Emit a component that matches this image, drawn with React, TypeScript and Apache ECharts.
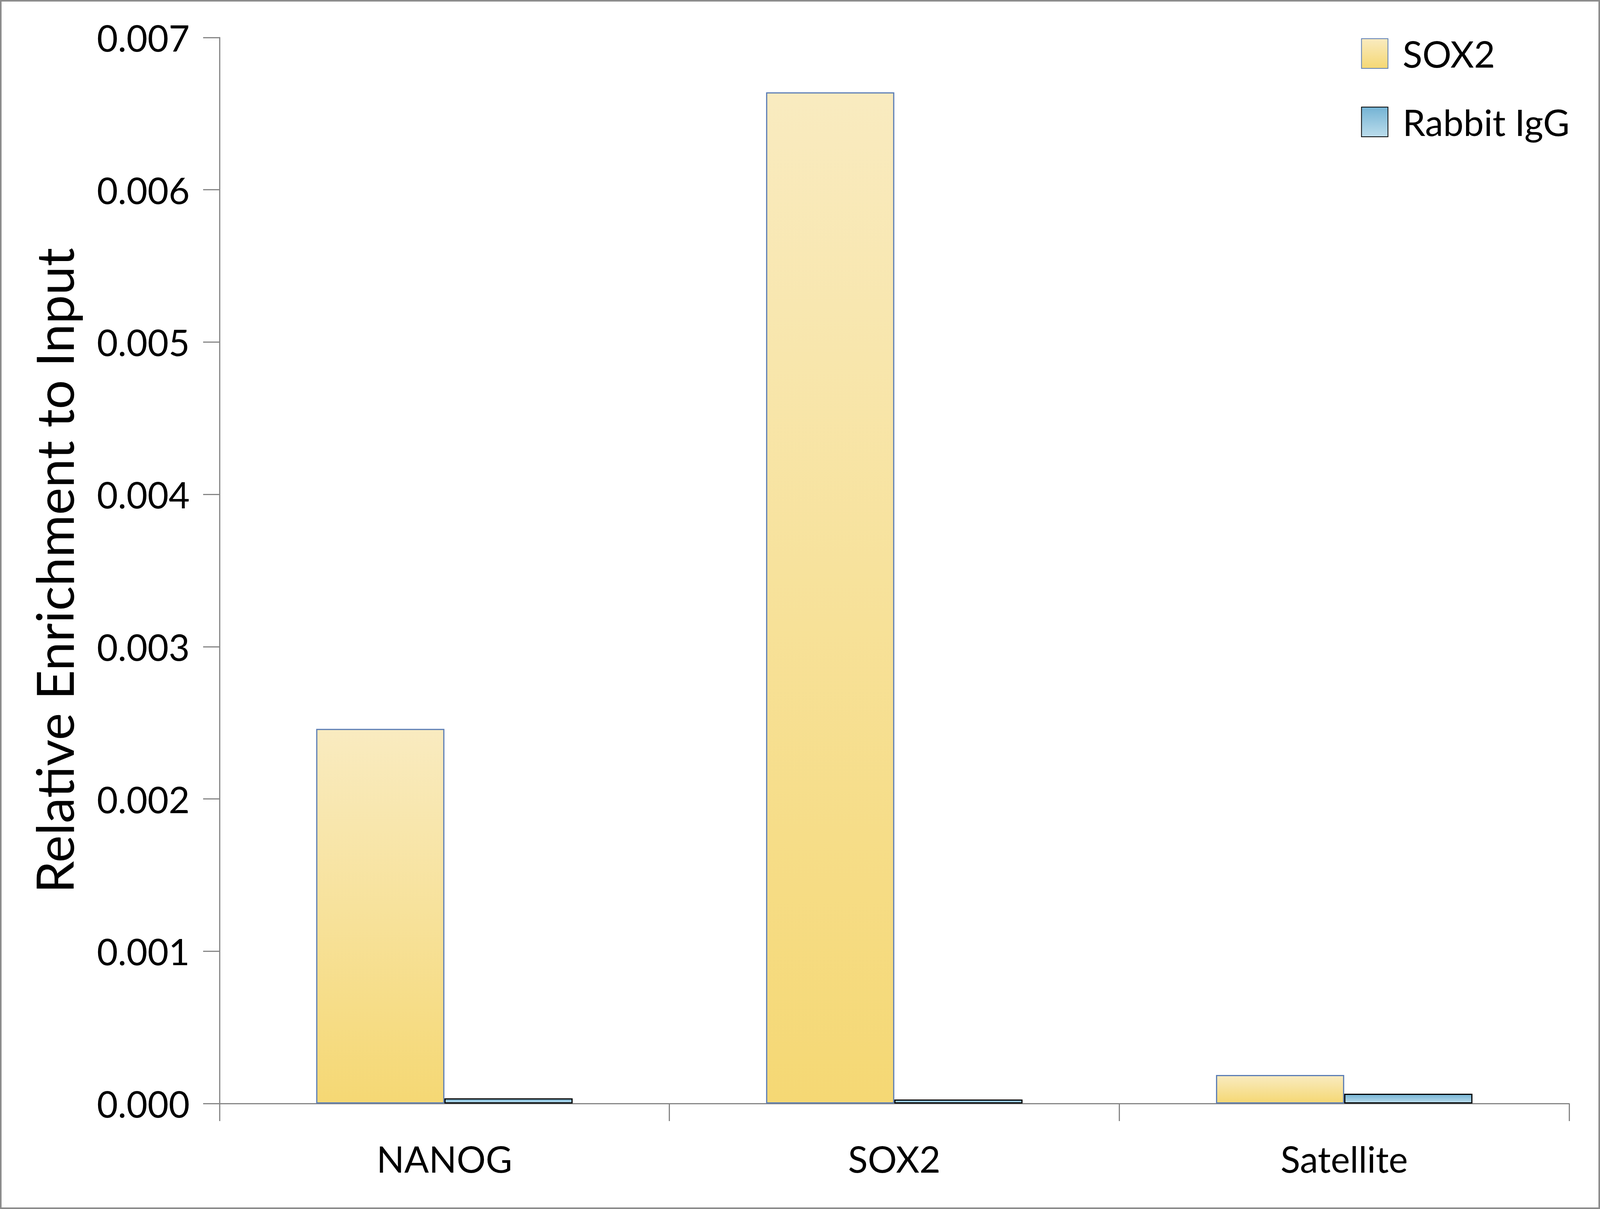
import React, { useEffect, useRef, useState } from "react";
import * as echarts from "echarts";

const categories = ["NANOG", "SOX2", "Satellite"];
const sox2Values = [0.00246, 0.00664, 0.000187];
const iggValues = [0.000034, 0.000026, 0.000064];
const seriesNames = ["SOX2", "Rabbit IgG"];
const yTitle = "Relative Enrichment to Input";

const REF_W = 4411;
const REF_H = 3094;
const FONT = "Lato, 'Open Sans', sans-serif";

export default function App() {
  const ref = useRef<HTMLDivElement>(null);
  const [size] = useState(() => ({
    w: Math.min(window.innerWidth || REF_W, REF_W),
    h: Math.min(window.innerHeight || REF_H, REF_H),
  }));
  useEffect(() => {
    if (!ref.current) return;
    const W = size.w;
    const H = size.h;
    const sx = W / REF_W;
    const sy = H / REF_H;
    const chart = echarts.init(ref.current, undefined, { renderer: "svg" });
    const axisColor = "#868686";
    const labelFont = Math.round(100 * sx);
    const titleFont = Math.round(132 * sy);
    const legendRow = Math.max(76 * sy, labelFont);
    chart.setOption({
      animation: false,
      backgroundColor: "#ffffff",
      textStyle: { fontFamily: FONT },
      graphic: [
        {
          type: "rect",
          shape: { x: 2, y: 2, width: W - 4, height: H - 4 },
          style: { fill: "none", stroke: "#8c8c8c", lineWidth: 4 },
          silent: true,
        },
      ],
      grid: {
        left: 605 * sx,
        right: 85 * sx,
        top: 96 * sy,
        bottom: 270 * sy,
        containLabel: false,
      },
      legend: {
        orient: "vertical",
        left: 3747 * sx,
        top: 94 * sy - (legendRow - 76 * sy) / 2,
        itemWidth: 73 * sx,
        itemHeight: 76 * sy,
        itemGap: 175 * sy - legendRow,
        icon: "rect",
        data: seriesNames,
        textStyle: {
          fontFamily: FONT,
          fontSize: labelFont,
          color: "#000",
          padding: [0, 0, 0, 35 * sx],
        },
      },
      xAxis: {
        type: "category",
        data: categories,
        axisLine: { show: true, lineStyle: { color: axisColor, width: 3 } },
        axisTick: { show: true, length: 45 * sy, lineStyle: { color: axisColor, width: 3 } },
        axisLabel: { fontFamily: FONT, fontSize: labelFont, color: "#000", margin: 94 * sy },
      },
      yAxis: {
        type: "value",
        min: 0,
        max: 0.007,
        interval: 0.001,
        name: yTitle,
        nameLocation: "middle",
        nameGap: 605 * sx - 194 * sx - 24,
        nameTextStyle: { fontFamily: FONT, fontSize: titleFont, color: "#000" },
        axisLine: { show: true, lineStyle: { color: axisColor, width: 3 } },
        axisTick: { show: true, length: 45 * sx, lineStyle: { color: axisColor, width: 3 } },
        splitLine: { show: false },
        axisLabel: {
          fontFamily: FONT,
          fontSize: labelFont,
          color: "#000",
          margin: 82 * sx,
          formatter: (v: number) => v.toFixed(3),
        },
      },
      series: [
        {
          name: seriesNames[0],
          type: "bar",
          data: sox2Values,
          barWidth: "28.5%",
          barGap: "0%",
          itemStyle: {
            color: new echarts.graphic.LinearGradient(0, 0, 0, 1, [
              { offset: 0, color: "#F9EBC0" },
              { offset: 1, color: "#F5D874" },
            ]),
            borderColor: "#5B7DB5",
            borderWidth: 3,
          },
        },
        {
          name: seriesNames[1],
          type: "bar",
          data: iggValues,
          barWidth: "28.5%",
          barGap: "0%",
          itemStyle: {
            color: new echarts.graphic.LinearGradient(0, 0, 0, 1, [
              { offset: 0, color: "#74B3D4" },
              { offset: 1, color: "#BCDDEC" },
            ]),
            borderColor: "#000000",
            borderWidth: 3,
          },
        },
      ],
    });
    return () => chart.dispose();
  }, [size]);
  return (
    <div
      ref={ref}
      style={{ position: "fixed", left: 0, top: 0, width: size.w, height: size.h }}
    />
  );
}
